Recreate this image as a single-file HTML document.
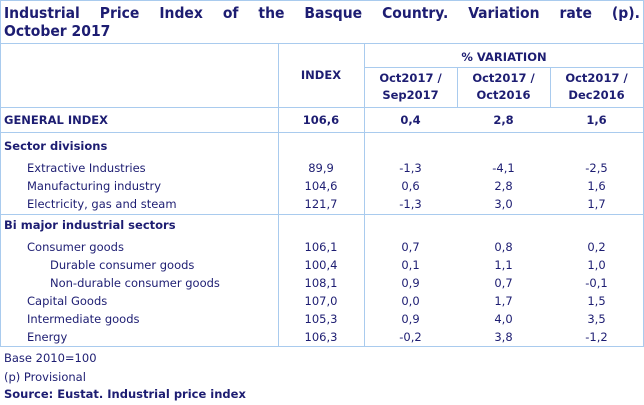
<!DOCTYPE html>
<html><head><meta charset="utf-8"><style>
*{margin:0;padding:0;box-sizing:border-box}
body{width:644px;height:405px;background:#fff;position:relative;overflow:hidden;font-family:"DejaVu Sans","Liberation Sans",sans-serif;color:#1d1d72;font-size:11.5px}
.a{position:absolute;white-space:nowrap}
.h{position:absolute;height:1px;background:#a9cbee}
.v{position:absolute;width:1px;background:#a9cbee}
.b{font-weight:bold}
.t{font-weight:bold;font-size:15.5px;font-family:"DejaVu Sans Condensed","DejaVu Sans",sans-serif}
.c{text-align:center}
</style></head><body>
<div class="h" style="left:0;top:0;width:644px"></div>
<div class="v" style="left:0;top:0;height:347px"></div>
<div class="v" style="left:643px;top:0;height:347px"></div>
<div class="a t" style="left:4px;top:4px;width:636px;display:flex;justify-content:space-between"><span>Industrial</span><span>Price</span><span>Index</span><span>of</span><span>the</span><span>Basque</span><span>Country.</span><span>Variation</span><span>rate</span><span>(p).</span></div>
<div class="a t" style="left:4px;top:22px">October 2017</div>
<div class="h" style="left:0;top:43px;width:644px"></div>
<div class="h" style="left:364px;top:67px;width:280px"></div>
<div class="h" style="left:0;top:107px;width:644px"></div>
<div class="h" style="left:0;top:132px;width:644px"></div>
<div class="h" style="left:0;top:214px;width:644px"></div>
<div class="h" style="left:0;top:346px;width:644px"></div>
<div class="v" style="left:278px;top:43px;height:304px"></div>
<div class="v" style="left:364px;top:43px;height:304px"></div>
<div class="v" style="left:457px;top:67px;height:40px"></div>
<div class="v" style="left:550px;top:67px;height:40px"></div>
<div class="a b c" style="left:364px;width:280px;top:50px">% VARIATION</div>
<div class="a b c" style="left:278px;width:86px;top:68px">INDEX</div>
<div class="a b c" style="left:364px;width:93px;top:70px;line-height:17px">Oct2017 /<br>Sep2017</div>
<div class="a b c" style="left:457px;width:93px;top:70px;line-height:17px">Oct2017 /<br>Oct2016</div>
<div class="a b c" style="left:550px;width:93px;top:70px;line-height:17px">Oct2017 /<br>Dec2016</div>
<div id="rows"></div>
<div class="a" style="left:4px;top:351px">Base 2010=100</div>
<div class="a" style="left:4px;top:370px">(p) Provisional</div>
<div class="a b" style="left:4px;top:387px">Source: Eustat. Industrial price index</div>
<script>
var R=[[113,"GENERAL INDEX",0,1,"106,6","0,4","2,8","1,6"],
[139,"Sector divisions",0,1],
[161,"Extractive Industries",1,0,"89,9","-1,3","-4,1","-2,5"],
[179,"Manufacturing industry",1,0,"104,6","0,6","2,8","1,6"],
[197,"Electricity, gas and steam",1,0,"121,7","-1,3","3,0","1,7"],
[218,"Bi major industrial sectors",0,1],
[240,"Consumer goods",1,0,"106,1","0,7","0,8","0,2"],
[258,"Durable consumer goods",2,0,"100,4","0,1","1,1","1,0"],
[276,"Non-durable consumer goods",2,0,"108,1","0,9","0,7","-0,1"],
[294,"Capital Goods",1,0,"107,0","0,0","1,7","1,5"],
[312,"Intermediate goods",1,0,"105,3","0,9","4,0","3,5"],
[330,"Energy",1,0,"106,3","-0,2","3,8","-1,2"]];
var h="",cx=[[278,86],[364,93],[457,93],[550,93]];
R.forEach(function(r){var b=r[3]?" b":"";
h+='<div class="a'+b+'" style="left:'+(4+r[2]*23)+'px;top:'+r[0]+'px">'+r[1]+'</div>';
for(var i=0;i<4;i++)if(r[4+i])h+='<div class="a c'+b+'" style="left:'+cx[i][0]+'px;width:'+cx[i][1]+'px;top:'+r[0]+'px">'+r[4+i]+'</div>';});
document.getElementById("rows").innerHTML=h;
</script>
</body></html>
